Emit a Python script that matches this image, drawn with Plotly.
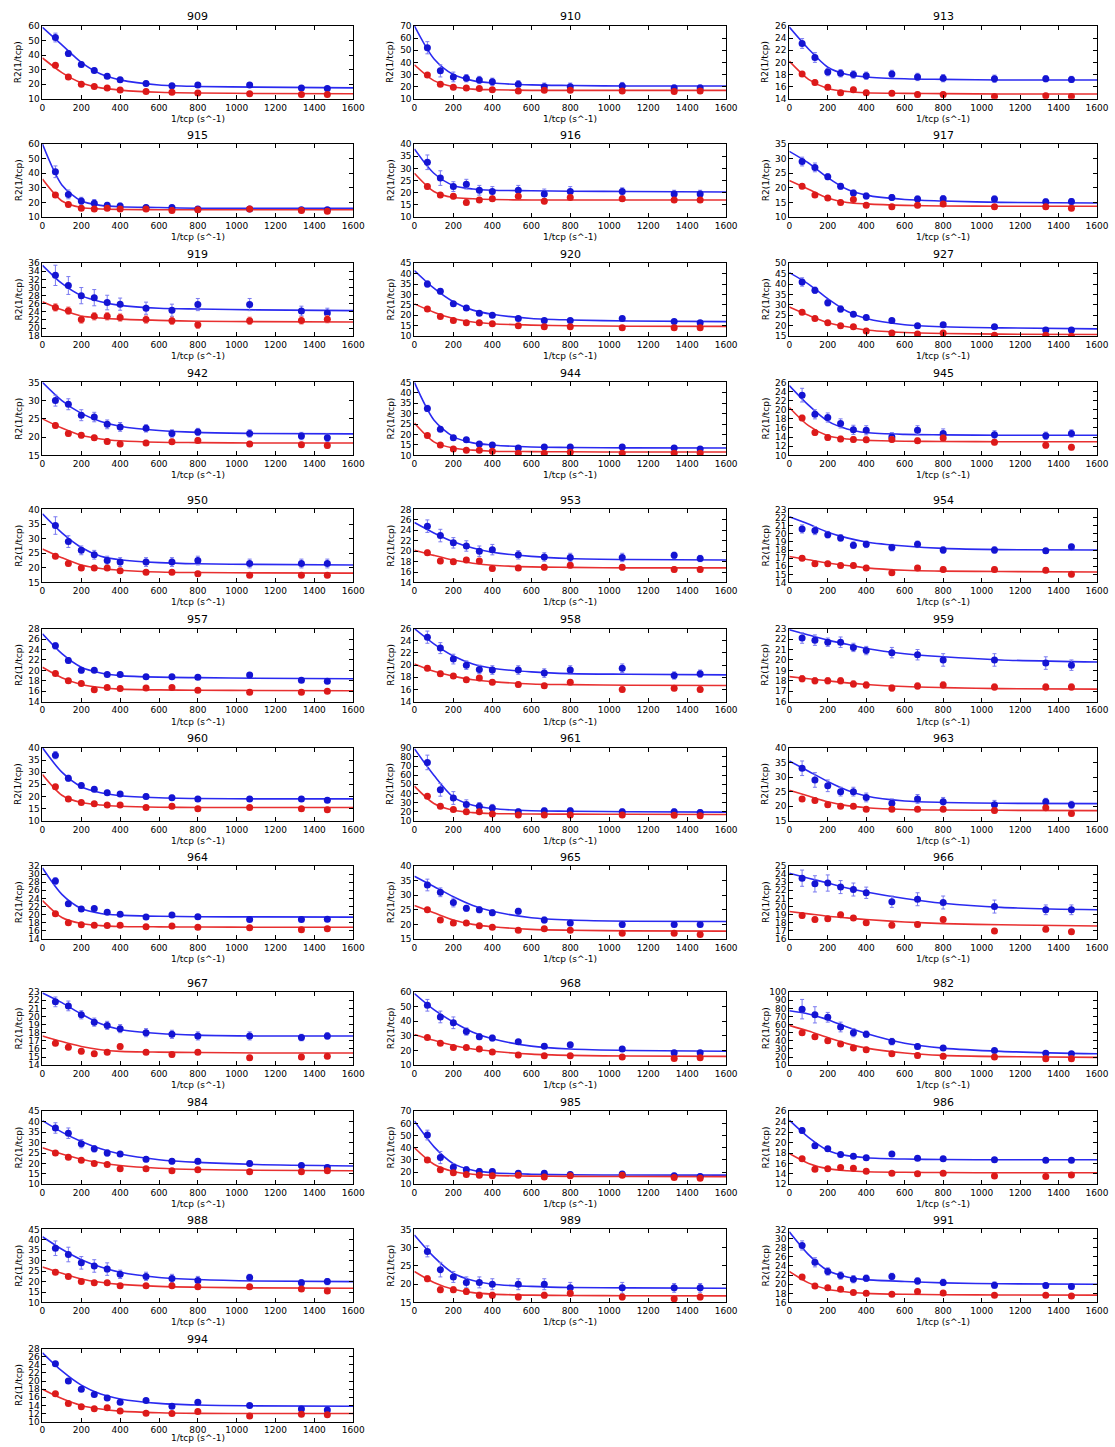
import plotly.graph_objects as go

W, H = 1115, 1447

TITLES = ["909", "910", "913", "915", "916", "917", "919", "920", "927", "942", "944", "945",
          "950", "953", "954", "957", "958", "959", "960", "961", "963", "964", "965", "966",
          "967", "968", "982", "984", "985", "986", "988", "989", "991", "994"]

X_PTS = [66.7, 133.3, 200, 266.7, 333.3, 400, 533.3, 666.7, 800, 1066.7, 1333.3, 1466.7]
CURVE_X = [0, 100, 200, 300, 400, 600, 800, 1100, 1600]
X_TICKS = [0, 200, 400, 600, 800, 1000, 1200, 1400, 1600]

Y_RANGE = [(10, 60, 10), (10, 70, 10), (14, 26, 2), (10, 60, 10), (10, 40, 5), (10, 35, 5),
           (18, 36, 2), (10, 45, 5), (15, 50, 5), (15, 35, 5), (10, 45, 5), (10, 26, 2),
           (15, 40, 5), (14, 28, 2), (14, 23, 1), (14, 28, 2), (14, 26, 2), (16, 23, 1),
           (10, 40, 5), (10, 90, 10), (15, 40, 5), (14, 32, 2), (15, 40, 5), (16, 25, 1),
           (14, 23, 1), (10, 60, 10), (10, 100, 10), (10, 45, 5), (10, 70, 10), (12, 26, 2),
           (10, 45, 5), (15, 35, 5), (16, 32, 2), (10, 28, 2)]

BLUE = [
    [52, 41, 33.5, 29.5, 25.5, 23, 20.5, 19, 19.5, 19.5, 17.5, 17],
    [52, 33, 28, 27, 25.5, 24, 22, 20, 20, 20.5, 19, 19],
    [23.1, 20.8, 18.4, 18.2, 18.0, 17.8, 18.1, 17.6, 17.4, 17.3, 17.3, 17.2],
    [41, 25.5, 21, 19.5, 18, 17.5, 16.5, 16.5, 15.5, 15.5, 15, 15],
    [32.5, 26, 22.5, 23.5, 21, 20.5, 21, 19.5, 20.5, 20.5, 19.5, 19.5],
    [29, 27, 23.8, 20.5, 18.2, 17.2, 16.7, 16.2, 16.3, 16.2, 15.2, 15.3],
    [33, 30.5, 28, 27.5, 26.3, 25.9, 24.9, 24.4, 25.8, 25.8, 24.2, 23.7],
    [35, 31.5, 25.5, 23.5, 21, 20, 18.5, 17.5, 17.5, 18.5, 17, 16.5],
    [41, 37, 31, 28, 25.5, 24, 22.5, 20, 20.5, 19.5, 18, 18],
    [30, 29, 26, 25.5, 23.5, 22.8, 22.4, 21, 21.4, 21, 20.3, 19.8],
    [32.5, 22.5, 18.5, 17.5, 15.5, 15, 13.5, 14, 14, 14, 13.5, 13],
    [23.2, 19, 18.3, 17, 15.6, 15.5, 14, 15.5, 14.8, 14.5, 14.3, 14.8],
    [34.5, 29, 26, 24.5, 22.5, 22, 22, 22, 22.5, 21.5, 21.5, 21.5],
    [24.8, 23, 21.6, 21, 20, 20.3, 19.3, 18.9, 18.8, 18.8, 19.2, 18.6],
    [20.6, 20.4, 19.9, 19.5, 18.6, 18.7, 18.3, 18.7, 18, 18, 17.9, 18.4],
    [24.7, 21.9, 20, 20, 19.2, 19.2, 18.8, 18.8, 18.7, 19.1, 18.1, 17.9],
    [24.6, 22.8, 21, 20, 19.3, 19.2, 19.2, 18.7, 19.2, 19.5, 18.3, 18.6],
    [22.1, 21.9, 21.7, 21.7, 21.2, 20.9, 20.7, 20.5, 20, 20, 19.7, 19.5],
    [37, 27.5, 24.5, 23, 21.5, 21, 20, 19.5, 19, 19, 19, 18.5],
    [74, 44, 35, 28, 26, 24, 20, 21, 21, 20, 20, 19],
    [33, 29, 27, 25, 25, 23, 21, 22.5, 21.5, 20.5, 21.5, 20.5],
    [28.3, 22.7, 21.4, 21.5, 20.6, 20.1, 19.4, 19.9, 19.5, 18.8, 18.8, 18.9],
    [33.5, 31, 27.5, 25.5, 25, 24, 24.5, 21.5, 20.5, 20, 20, 20],
    [23.5, 22.8, 22.9, 22.4, 22.1, 21.7, 20.6, 20.9, 20.5, 20, 19.6, 19.6],
    [21.8, 21.3, 20.2, 19.3, 18.9, 18.5, 18, 17.8, 17.6, 17.6, 17.4, 17.6],
    [51, 43, 39, 33, 29.5, 28.5, 26, 23, 24, 21, 18.5, 18.5],
    [79, 72, 69, 57, 50, 48, 39, 33, 31, 28, 24.5, 24],
    [37, 34.5, 29.5, 27, 25, 24.5, 22, 21, 21, 20, 19, 18],
    [50.5, 32, 24, 22, 20.5, 20.5, 19, 19, 18, 18.5, 17, 16.5],
    [22.3, 19.4, 18.8, 17.7, 17.4, 17.1, 17.8, 17, 16.9, 16.7, 16.6, 16.6],
    [36, 33, 29, 27.5, 26, 23.5, 22.5, 21.5, 20.5, 22, 19.5, 20],
    [29, 24, 22, 20.5, 20.5, 20, 20, 20, 19, 19, 19, 19],
    [28.5, 24.8, 22.8, 21.9, 21.1, 21.3, 21.7, 20.7, 20.4, 19.8, 19.7, 19.5],
    [24.3, 20, 18, 16.7, 15.8, 14.8, 15.2, 13.8, 14.8, 14, 13.1, 12.9],
]

BLUE_ERR = [
    [3, 2, 1.5, 1.5, 1.5, 1.5, 1.5, 1.5, 1.5, 1.5, 1.5, 1.5],
    [5, 5, 4, 3, 3, 3, 3, 3, 3, 3, 2.5, 2.5],
    [0.8, 0.8, 0.6, 0.6, 0.6, 0.6, 0.6, 0.6, 0.6, 0.6, 0.5, 0.5],
    [4, 3, 2.5, 2.5, 2, 2, 1.5, 1.5, 1.5, 1.5, 1.5, 1.5],
    [3, 3, 2, 2, 2, 2, 2, 2, 2, 1.5, 1.5, 1.5],
    [1.5, 1.5, 1, 1, 1, 1, 1, 1, 1, 1, 1, 1],
    [2.5, 2.2, 2, 2, 1.8, 1.5, 1.5, 1.5, 1.5, 1.5, 1.2, 1.2],
    [1.5, 1.2, 1, 1, 1, 1, 1, 1, 1, 1, 1, 1],
    [2, 1.5, 1.5, 1.5, 1, 1, 1, 1, 1, 1, 1, 1],
    [1.5, 1.5, 1.5, 1.3, 1.2, 1.2, 1, 1, 1, 1, 1, 1],
    [1.5, 1, 1, 1, 1, 1, 1, 0.8, 0.8, 0.8, 0.8, 0.8],
    [1.5, 1, 1, 1, 1, 1, 1, 1, 1, 0.9, 0.8, 0.8],
    [3, 2, 1.5, 1.5, 1.5, 1.5, 1.5, 1.5, 1.5, 1.5, 1.5, 1.5],
    [1.2, 1.2, 1, 1, 1, 1, 0.8, 0.8, 0.8, 0.8, 0.6, 0.6],
    [0.5, 0.5, 0.4, 0.4, 0.4, 0.4, 0.4, 0.4, 0.4, 0.4, 0.3, 0.3],
    [0.6, 0.5, 0.5, 0.4, 0.4, 0.4, 0.4, 0.4, 0.4, 0.4, 0.3, 0.3],
    [1, 0.9, 0.8, 0.7, 0.7, 0.7, 0.7, 0.7, 0.7, 0.7, 0.6, 0.6],
    [0.5, 0.5, 0.4, 0.5, 0.4, 0.4, 0.5, 0.5, 0.6, 0.6, 0.6, 0.5],
    [1.5, 1.2, 1, 1, 1, 1, 1, 1, 1, 1, 1, 1],
    [8, 7, 7, 5, 4, 4, 3, 3, 3, 3, 3, 3],
    [2.5, 2.5, 2, 1.5, 1.5, 1.5, 1.5, 1.5, 1.5, 1.5, 1.2, 1.2],
    [0.8, 0.6, 0.5, 0.5, 0.5, 0.5, 0.5, 0.5, 0.5, 0.4, 0.4, 0.4],
    [2, 1.5, 1.5, 1, 1, 1, 1, 1, 1, 1, 0.8, 0.8],
    [1, 1, 1, 0.8, 0.8, 0.7, 0.7, 0.8, 0.8, 0.8, 0.6, 0.6],
    [0.6, 0.6, 0.5, 0.5, 0.5, 0.5, 0.5, 0.5, 0.5, 0.5, 0.4, 0.4],
    [4, 4, 4, 2.5, 2, 2, 1.5, 1.5, 1.5, 1.5, 1.5, 1.5],
    [12, 10, 6, 6, 5, 4, 4, 3, 3, 2.5, 2.5, 2.5],
    [2.5, 2.5, 2, 1.5, 1.5, 1.2, 1.2, 1.2, 1.2, 1.2, 1.2, 1.2],
    [4, 5, 3, 2.5, 2.5, 2, 2, 2, 2, 2, 2, 2],
    [0.5, 0.5, 0.4, 0.4, 0.4, 0.4, 0.4, 0.4, 0.4, 0.4, 0.4, 0.4],
    [3.5, 3.5, 3, 3, 3, 2, 2, 2, 2, 1.5, 1.5, 1.5],
    [1.5, 2, 1.5, 1.5, 1.5, 1.5, 1.5, 1.5, 1.5, 1.5, 1.2, 1.2],
    [1, 1, 0.8, 0.8, 0.8, 0.7, 0.7, 0.7, 0.7, 0.7, 0.6, 0.6],
    [0.3, 0.3, 0.3, 0.3, 0.3, 0.3, 0.3, 0.3, 0.3, 0.3, 0.3, 0.3],
]

RED = [
    [33, 25, 20, 18.5, 17.5, 16, 15, 14.5, 14, 13.5, 13, 13],
    [29.5, 22, 19.5, 19, 18.5, 17.5, 16.5, 17, 17, 16.5, 16, 16.5],
    [18.1, 16.7, 15.9, 15.0, 15.5, 15.0, 14.9, 14.7, 14.7, 14.4, 14.5, 14.4],
    [25, 18.5, 16, 15.5, 16, 15.5, 15.5, 14.5, 15, 15.5, 14.5, 14],
    [22.5, 19, 18.5, 16, 17, 17.5, 18.5, 16.5, 18, 17.5, 17, 17],
    [20.5, 17.5, 16.5, 15, 16, 14, 13.5, 14, 14.5, 13.5, 13.5, 13],
    [25.1, 24.3, 22.1, 22.9, 22.9, 22.6, 22.1, 21.8, 20.8, 21.8, 21.9, 22.2],
    [23, 19.5, 17.5, 16.5, 16.5, 16, 15, 14.5, 14.5, 14, 14, 14],
    [26.5, 23.5, 21.5, 20, 19.5, 17.5, 16.5, 16, 16.5, 15.5, 15.5, 15],
    [23.2, 21, 20.5, 19.8, 18.8, 18.1, 18.4, 18.7, 19.1, 18.1, 17.9, 17.7],
    [19.5, 15, 13, 12.5, 12.5, 12, 11, 11, 11.5, 11, 11, 11],
    [18.2, 15, 13.9, 13.6, 13.5, 13.4, 13.5, 13.2, 13.8, 12.9, 12.2, 11.8],
    [24, 21.5, 20, 20, 20, 19, 18.5, 18.5, 18, 17.5, 17.5, 17.5],
    [19.7, 18.1, 18, 18.3, 18.1, 16.7, 16.8, 16.9, 17.3, 16.9, 16.5, 16.5],
    [17, 16.3, 16.3, 16.1, 16.1, 15.8, 15.2, 15.8, 15.6, 15.6, 15.5, 15],
    [19.4, 18, 17.5, 16.3, 16.7, 16.5, 16.6, 16.7, 16.2, 15.8, 15.8, 16],
    [19.5, 18.6, 18.2, 17.6, 17.9, 17.2, 16.8, 16.6, 17.2, 16, 16.2, 16],
    [18.2, 18, 18, 18, 17.7, 17.6, 17.3, 17.5, 17.6, 17.4, 17.4, 17.4],
    [24, 19, 17.5, 17, 16.5, 16.5, 15.5, 16, 15, 15.5, 15, 14.5],
    [37, 26, 22.5, 20, 20, 17.5, 16.5, 16.5, 16.5, 16.5, 16, 15.5],
    [22.5, 22, 20.5, 20, 20, 19, 19, 19, 19, 18.5, 19.5, 17.5],
    [20.2, 18, 17.5, 17.4, 17.3, 17.4, 17, 17.2, 16.9, 16.8, 16.3, 16.5],
    [25, 21.5, 20.5, 20.5, 19.5, 19, 18, 18.5, 18, 17, 17, 16.5],
    [18.9, 18.4, 18.5, 19, 18.6, 18, 17.7, 17.8, 18.4, 17, 17.2, 16.9],
    [16.7, 16.2, 15.7, 15.4, 15.6, 16.3, 15.6, 15.3, 15.6, 14.9, 15, 15.1],
    [29, 25, 22, 22, 21, 19, 17, 16.5, 16.5, 15.5, 14.5, 15],
    [50, 45, 40, 36, 31, 29, 24, 22, 21, 20, 18, 18],
    [25, 23, 21.5, 20, 19.5, 17.5, 17.5, 16.5, 17, 16, 16, 16.5],
    [30, 22, 19.5, 18, 17.5, 17, 17.5, 16, 17, 17.5, 15.5, 15],
    [16.9, 14.9, 15, 15.2, 15.1, 14.5, 14.1, 14, 14.1, 13.6, 13.5, 13.8],
    [24.5, 22.5, 20, 19.5, 19.5, 18, 18, 18, 17.5, 17.5, 16.5, 15.5],
    [21.5, 18.5, 18.5, 18, 17, 17, 16.5, 17, 17.5, 16.5, 16, 16.5],
    [21.6, 19.6, 19.2, 18.9, 18.2, 18, 17.8, 18.4, 18.1, 17.6, 17.6, 17.4],
    [16.9, 14.5, 13.7, 13.2, 13.4, 12.6, 12.1, 12, 12.5, 11.4, 11.8, 11.7],
]

RED_ERR = [1.2, 1.5, 0.4, 1.5, 1, 0.8, 0.9, 0.8, 1, 0.7, 0.7, 0.6,
           0.8, 0.5, 0.3, 0.4, 0.4, 0.3, 0.8, 2, 0.8, 0.4, 0.6, 0.3,
           0.3, 1, 3, 0.8, 1.5, 0.3, 1, 0.8, 0.4, 0.2]

BLUE_FIT = [
    [59, 47, 35, 27, 23, 19.5, 18.5, 18, 17.5],
    [70, 43, 30, 25, 23, 21.5, 21, 20.5, 20.5],
    [25.8, 22.2, 19.2, 18.0, 17.6, 17.3, 17.2, 17.1, 17.1],
    [60, 32, 21, 18, 17, 16.5, 16, 16, 16],
    [38, 28, 23, 21.5, 21, 20.8, 20.6, 20.5, 20.3],
    [32.5, 28.5, 23.5, 19.5, 17.5, 16, 15.5, 15, 14.8],
    [35.5, 31, 28, 26.5, 25.6, 24.9, 24.7, 24.5, 24.3],
    [41.5, 33, 26.5, 22.5, 20.5, 18.5, 17.8, 17.3, 17],
    [45.5, 40, 33, 27, 23.5, 20.5, 19.5, 19, 18.5],
    [35, 30, 26.5, 24.3, 23, 21.8, 21.3, 21, 20.9],
    [45, 27, 19, 16, 15, 14, 13.8, 13.6, 13.5],
    [25.3, 21, 17.5, 15.8, 15, 14.6, 14.5, 14.4, 14.4],
    [38.5, 32, 27, 24, 22.8, 21.8, 21.4, 21.2, 21],
    [25.5, 23.5, 21.8, 20.6, 19.8, 19, 18.6, 18.4, 18.3],
    [22.1, 21.2, 20.2, 19.5, 19, 18.5, 18.2, 18.05, 18],
    [27, 23.2, 20.6, 19.5, 19, 18.7, 18.6, 18.5, 18.4],
    [26, 23.5, 21.5, 20.2, 19.5, 18.9, 18.6, 18.5, 18.4],
    [22.9, 22.4, 21.9, 21.5, 21.1, 20.6, 20.3, 20, 19.8],
    [40, 30, 24, 21.5, 20.3, 19.5, 19.2, 19, 19],
    [89, 60, 36, 27, 23.5, 21, 20.5, 20, 19.5],
    [35.5, 32, 28.5, 25.5, 23.5, 21.8, 21.3, 21, 20.9],
    [31.5, 25, 21.5, 20.3, 19.9, 19.6, 19.5, 19.45, 19.4],
    [36.5, 33, 29.5, 26.5, 24.5, 22.3, 21.5, 21.1, 21],
    [24.1, 23.5, 22.9, 22.3, 21.8, 21, 20.4, 19.9, 19.6],
    [22.9, 21.7, 20.3, 19.1, 18.4, 17.9, 17.7, 17.6, 17.6],
    [59, 48, 39.5, 32.5, 28, 23, 21, 20, 19.5],
    [77, 73, 66, 57, 49, 37, 31, 27, 24],
    [40.5, 35, 30.5, 27, 24.5, 21.8, 20.5, 19.5, 18.8],
    [62, 41, 27, 21.5, 19.5, 18.3, 17.8, 17.6, 17.5],
    [24.3, 21, 18.5, 17.5, 17.1, 16.85, 16.75, 16.7, 16.7],
    [41.5, 35.5, 30.5, 27, 24.5, 22, 21, 20.3, 20],
    [33.5, 27.5, 23, 21, 20, 19.4, 19.1, 19, 18.9],
    [31.5, 26.5, 23, 21.6, 21, 20.6, 20.3, 20.1, 20],
    [27, 22.5, 19, 16.8, 15.6, 14.5, 14.1, 13.9, 13.8],
]

RED_FIT = [
    [38, 28, 21, 17.5, 16, 14.5, 14, 13.7, 13.5],
    [38, 25, 20, 18, 17.5, 17, 17, 17, 17],
    [20.2, 17.2, 15.7, 15.2, 15.0, 14.9, 14.85, 14.8, 14.8],
    [36, 21, 16.5, 15.5, 15.2, 15, 15, 15, 15],
    [28, 20.5, 18, 17.5, 17.2, 17, 17, 17, 17],
    [22.5, 19.5, 16.5, 15, 14.5, 14, 13.8, 13.7, 13.7],
    [26.5, 24.5, 23, 22.5, 22.2, 21.9, 21.7, 21.6, 21.5],
    [25.5, 21.5, 18.5, 16.8, 16, 15.3, 15, 14.8, 14.7],
    [29, 25, 21.5, 19.5, 18, 16.8, 16.3, 16, 15.8],
    [25, 22.5, 20.5, 19.5, 19, 18.6, 18.5, 18.4, 18.4],
    [25.5, 16.5, 13.5, 12.5, 12, 11.8, 11.7, 11.6, 11.6],
    [20.5, 16.5, 14.3, 13.6, 13.3, 13.1, 13.05, 13, 13],
    [26.5, 23.5, 21, 19.8, 19.2, 18.6, 18.4, 18.3, 18.2],
    [20.2, 19.2, 18.3, 17.7, 17.3, 17, 16.9, 16.8, 16.8],
    [17.2, 16.8, 16.4, 16.1, 15.8, 15.5, 15.4, 15.35, 15.3],
    [20.6, 18.6, 17.3, 16.7, 16.4, 16.25, 16.2, 16.15, 16.1],
    [20.2, 19, 18.2, 17.6, 17.3, 16.9, 16.8, 16.7, 16.65],
    [18.4, 18.2, 18, 17.8, 17.65, 17.45, 17.35, 17.25, 17.2],
    [29, 20.5, 17.5, 16.5, 16, 15.6, 15.5, 15.5, 15.5],
    [48, 29, 21.5, 19, 18, 17.5, 17.3, 17.2, 17],
    [25.5, 23.5, 21.5, 20.2, 19.5, 18.9, 18.7, 18.6, 18.5],
    [23.5, 19.3, 17.8, 17.3, 17.1, 17, 16.95, 16.9, 16.9],
    [26.5, 24, 21.5, 20, 19.2, 18.3, 18, 17.8, 17.7],
    [19.4, 19.1, 18.8, 18.6, 18.4, 18.1, 17.9, 17.75, 17.6],
    [17.6, 16.9, 16.3, 15.9, 15.7, 15.6, 15.55, 15.5, 15.5],
    [31, 27, 23.5, 21, 19.5, 17.5, 16.7, 16.2, 16],
    [59, 52, 44, 36.5, 31, 25, 22, 20.5, 19.5],
    [27.5, 24.5, 22, 20.3, 19, 17.7, 17.1, 16.7, 16.5],
    [40, 26.5, 20.5, 18.2, 17.3, 16.7, 16.5, 16.4, 16.3],
    [17.9, 16, 15, 14.6, 14.4, 14.3, 14.25, 14.2, 14.2],
    [27, 24, 21.3, 19.7, 18.7, 17.7, 17.3, 17, 16.8],
    [23.5, 20.5, 18.6, 17.7, 17.3, 17, 16.9, 16.85, 16.8],
    [22.8, 20.3, 18.9, 18.3, 18, 17.8, 17.7, 17.65, 17.6],
    [18, 15.7, 14, 13.1, 12.6, 12.2, 12.05, 12, 12],
]

# layout positions in page pixels
ROW_TITLE_Y = [12, 131, 251, 371, 499, 619, 739, 858, 985, 1105, 1224, 1344]
COL_X = [(40, 355), (417, 733), (797, 1109)]

BLUE_C = "#1414d2"
RED_C = "#dc1a1a"
BLUE_LINE = "#2a2af0"
RED_LINE = "#e83030"
BLUE_EC = "#7a7af0"
RED_EC = "#f07a7a"
FONT = "DejaVu Sans"


def py(v):
    return min(max(1 - v / H, 0), 1)


fig = go.Figure()
layout = {}
annotations = []

for i, title in enumerate(TITLES):
    r, c = divmod(i, 3)
    suf = "" if i == 0 else str(i + 1)
    xa, ya = "x" + suf, "y" + suf
    top = ROW_TITLE_Y[r] + 9
    bot = ROW_TITLE_Y[r] + 82.5
    x0, x1 = COL_X[c]
    ymin, ymax, dt = Y_RANGE[i]

    fig.add_trace(go.Scatter(x=CURVE_X, y=BLUE_FIT[i], mode="lines",
                             line=dict(color=BLUE_LINE, width=1.6, shape="spline", smoothing=0.8),
                             xaxis=xa, yaxis=ya, showlegend=False, hoverinfo="skip"))
    fig.add_trace(go.Scatter(x=CURVE_X, y=RED_FIT[i], mode="lines",
                             line=dict(color=RED_LINE, width=1.6, shape="spline", smoothing=0.8),
                             xaxis=xa, yaxis=ya, showlegend=False, hoverinfo="skip"))
    fig.add_trace(go.Scatter(x=X_PTS, y=BLUE[i], mode="markers",
                             marker=dict(color=BLUE_C, size=7),
                             error_y=dict(type="data", array=BLUE_ERR[i], color=BLUE_EC,
                                          thickness=1, width=2),
                             xaxis=xa, yaxis=ya, showlegend=False))
    fig.add_trace(go.Scatter(x=X_PTS, y=RED[i], mode="markers",
                             marker=dict(color=RED_C, size=7),
                             error_y=dict(type="data", array=[RED_ERR[i]] * len(X_PTS),
                                          color=RED_EC, thickness=1, width=2),
                             xaxis=xa, yaxis=ya, showlegend=False))

    common = dict(showline=True, linecolor="black", linewidth=1, mirror="ticks",
                  ticks="inside", ticklen=4, tickcolor="black", showgrid=False,
                  zeroline=False, tickfont=dict(family=FONT, size=9, color="black"))
    layout["xaxis" + suf] = dict(domain=[x0 / W, x1 / W], anchor=ya, range=[0, 1600],
                                 tickvals=X_TICKS, **common)
    layout["yaxis" + suf] = dict(domain=[py(bot), py(top)], anchor=xa,
                                 range=[ymin, ymax], tick0=ymin, dtick=dt, **common)

    annotations.append(dict(text=title, x=(x0 + x1) / 2 / W, y=py(ROW_TITLE_Y[r]),
                            xref="paper", yref="paper", showarrow=False,
                            xanchor="center", yanchor="middle",
                            font=dict(family=FONT, size=11, color="black")))
    annotations.append(dict(text="1/tcp (s^-1)", x=(x0 + x1) / 2 / W,
                            y=py(min(bot + 20, H - 4)),
                            xref="paper", yref="paper", showarrow=False,
                            xanchor="center", yanchor="middle",
                            font=dict(family=FONT, size=9, color="black")))
    annotations.append(dict(text="R2(1/tcp)", x=(x0 - 24) / W, y=py((top + bot) / 2),
                            xref="paper", yref="paper", showarrow=False, textangle=-90,
                            xanchor="center", yanchor="middle",
                            font=dict(family=FONT, size=9, color="black")))

fig.update_layout(width=W, height=H, margin=dict(l=0, r=0, t=0, b=0),
                  paper_bgcolor="white", plot_bgcolor="white",
                  annotations=annotations, **layout)

PAGE_CSS_JS = ("document.documentElement.style.margin='0';"
               "document.documentElement.style.overflow='hidden';"
               "document.body.style.margin='0';"
               "document.body.style.overflow='hidden';")

fig.write_html("out.html", post_script=PAGE_CSS_JS, config={"displayModeBar": False})
